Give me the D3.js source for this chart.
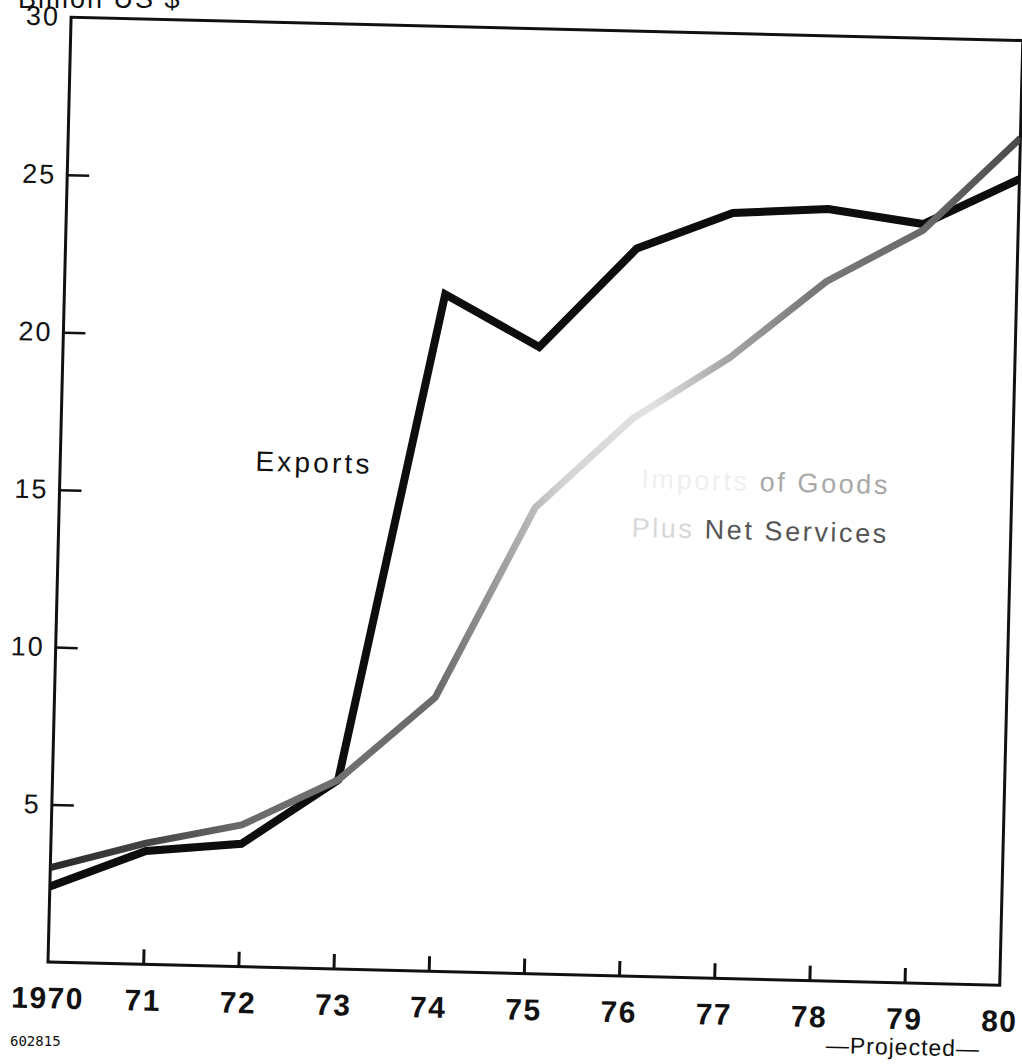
<!DOCTYPE html>
<html>
<head>
<meta charset="utf-8">
<script src="https://cdn.jsdelivr.net/npm/d3@7"></script>
<style>
  html, body { margin: 0; padding: 0; background: #fff; }
  svg { display: block; }
  text { font-family: "Liberation Sans", Arial, Helvetica, sans-serif; fill: #111; }
</style>
</head>
<body>
<svg id="chart" width="1022" height="1064"></svg>
<script>
// ---- data ----
const years = [1970, 1971, 1972, 1973, 1974, 1975, 1976, 1977, 1978, 1979, 1980];
const xTickLabels = ["1970", "71", "72", "73", "74", "75", "76", "77", "78", "79", "80"];
const exportsVals = [2.4, 3.6, 3.9, 6.0, 21.5, 19.9, 23.1, 24.3, 24.5, 24.1, 25.6];
const importsVals = [3.0, 3.85, 4.5, 6.0, 8.7, 14.8, 17.7, 19.7, 22.2, 23.9, 26.9];
const yTicks = [5, 10, 15, 20, 25, 30];
const yTickLabels = ["5", "10", "15", "20", "25", "30"];

// ---- layout ----
const W = 952, H = 945;
const svg = d3.select("#chart");

const x = d3.scaleLinear().domain([1970, 1980]).range([0, W]);
const y = d3.scaleLinear().domain([0, 30]).range([H, 0]);

// the scanned original is slightly tilted
const g = svg.append("g")
  .attr("transform", `translate(48,962) rotate(1.4) translate(0,${-H})`);

// gradient for the halftone grey line
const defs = svg.append("defs");
const grad = defs.append("linearGradient")
  .attr("id", "impGrad")
  .attr("gradientUnits", "userSpaceOnUse")
  .attr("x1", x(1970)).attr("y1", 0)
  .attr("x2", x(1980)).attr("y2", 0);
[[1970, "#2a2a2a"], [1971, "#444"], [1972, "#6a6a6a"], [1973, "#707070"], [1974, "#6a6a6a"],
 [1974.6, "#9a9a9a"], [1975.3, "#d4d4d4"], [1976.2, "#e2e2e2"], [1976.9, "#aaaaaa"],
 [1977.8, "#7a7a7a"], [1979, "#6a6a6a"], [1980, "#4a4a4a"]]
  .forEach(([yr, c]) => grad.append("stop")
    .attr("offset", ((yr - 1970) / 10 * 100) + "%")
    .attr("stop-color", c));

// frame
g.append("rect")
  .attr("x", 0).attr("y", 0).attr("width", W).attr("height", H)
  .attr("fill", "none").attr("stroke", "#111").attr("stroke-width", 3);

// y axis (ticks pointing inward)
const yAxis = d3.axisLeft(y)
  .tickValues(yTicks.slice(0, 5))
  .tickSize(-22)
  .tickPadding(11)
  .tickFormat((d) => yTickLabels[yTicks.indexOf(d)]);
const ya = g.append("g").call(yAxis);
ya.select(".domain").remove();
ya.selectAll(".tick line").attr("stroke", "#111").attr("stroke-width", 2.5);
ya.selectAll(".tick text")
  .attr("font-size", 27).attr("letter-spacing", 2).attr("fill", "#111")
  .style("font-family", "'Liberation Sans', Arial, sans-serif");
// top label 30 sits on the frame corner
g.append("text")
  .attr("x", -11).attr("y", y(30)).attr("dy", "0.32em")
  .attr("text-anchor", "end").attr("font-size", 27).attr("letter-spacing", 2)
  .text(yTickLabels[5]);

// x axis (ticks pointing up)
const xAxis = d3.axisBottom(x)
  .tickValues(years)
  .tickSize(-15)
  .tickPadding(25)
  .tickFormat((d, i) => xTickLabels[years.indexOf(d)]);
const xa = g.append("g").attr("transform", `translate(0,${H})`).call(xAxis);
xa.select(".domain").remove();
xa.selectAll(".tick line")
  .attr("stroke", "#111").attr("stroke-width", 3)
  .attr("display", (d) => (d === 1970 || d === 1980) ? "none" : null);
xa.selectAll(".tick text")
  .attr("font-size", 30).attr("font-weight", "bold").attr("letter-spacing", 1.5)
  .attr("fill", "#111")
  .style("font-family", "'Liberation Sans', Arial, sans-serif");

// lines
const line = d3.line().x((d) => x(d[0])).y((d) => y(d[1]));
const clip = defs.append("clipPath").attr("id", "plotClip");
clip.append("rect").attr("x", 0).attr("y", -10).attr("width", W).attr("height", H + 10);

g.append("path")
  .datum(years.map((yr, i) => [yr, exportsVals[i]]))
  .attr("d", line)
  .attr("clip-path", "url(#plotClip)")
  .attr("fill", "none").attr("stroke", "#0d0d0d").attr("stroke-width", 8)
  .attr("stroke-linejoin", "miter");

g.append("path")
  .datum(years.map((yr, i) => [yr, importsVals[i]]))
  .attr("d", line)
  .attr("clip-path", "url(#plotClip)")
  .attr("fill", "none").attr("stroke", "url(#impGrad)").attr("stroke-width", 7)
  .attr("stroke-linejoin", "miter");

// labels
g.append("text")
  .attr("x", x(1972.05)).attr("y", y(15.75))
  .attr("font-size", 28).attr("letter-spacing", 3.2)
  .text("Exports");

const imp1 = g.append("text")
  .attr("x", x(1978.72)).attr("y", y(15.5))
  .attr("text-anchor", "end").attr("font-size", 27).attr("letter-spacing", 2.6);
imp1.append("tspan").attr("fill", "#efefef").text("Imports ");
imp1.append("tspan").attr("fill", "#a8a8a8").text("of Goods");

const imp2 = g.append("text")
  .attr("x", x(1978.72)).attr("y", y(13.95))
  .attr("text-anchor", "end").attr("font-size", 27).attr("letter-spacing", 2.6);
imp2.append("tspan").attr("fill", "#d8d8d8").text("Plus ");
imp2.append("tspan").attr("fill", "#555").text("Net Services");

g.append("text")
  .attr("x", x(1979)).attr("y", H + 72)
  .attr("text-anchor", "middle").attr("font-size", 23).attr("letter-spacing", 1)
  .text("\u2014Projected\u2014");

// unit label (cut off at the top of the scan)
svg.append("text")
  .attr("x", 18).attr("y", 8)
  .attr("font-size", 27).attr("letter-spacing", 2)
  .text("Billion US $");

svg.append("text")
  .attr("x", 10).attr("y", 1046)
  .attr("font-size", 14)
  .style("font-family", "'DejaVu Sans Mono', monospace")
  .attr("fill", "#222")
  .text("602815");
</script>
</body>
</html>
